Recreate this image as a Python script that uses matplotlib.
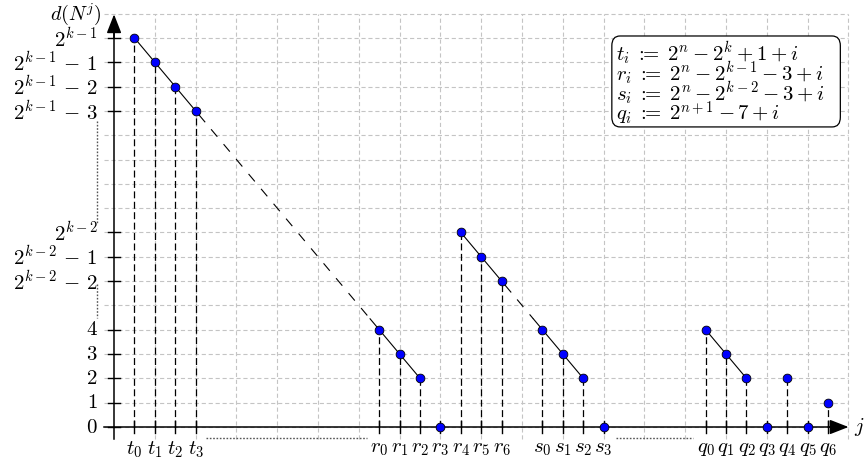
import matplotlib.pyplot as plt
from matplotlib.patches import FancyBboxPatch

plt.rcParams['mathtext.fontset'] = 'cm'
plt.rcParams['font.family'] = 'serif'
plt.rcParams['font.serif'] = ['DejaVu Serif']
plt.rcParams['lines.scale_dashes'] = False

# ---- data ----
names = ['t_0', 't_1', 't_2', 't_3',
         'r_0', 'r_1', 'r_2', 'r_3', 'r_4', 'r_5', 'r_6',
         's_0', 's_1', 's_2', 's_3',
         'q_0', 'q_1', 'q_2', 'q_3', 'q_4', 'q_5', 'q_6']
xs = [1, 2, 3, 4,
      13, 14, 15, 16, 17, 18, 19,
      21, 22, 23, 24,
      29, 30, 31, 32, 33, 34, 35]
ys = [16, 15, 14, 13,
      4, 3, 2, 0, 8, 7, 6,
      4, 3, 2, 0,
      4, 3, 2, 0, 2, 0, 1]

# runs of points joined by a solid line (start, stop index)
chains = [(0, 4), (4, 7), (8, 11), (11, 14), (15, 18)]
# dashed jumps between runs (from index, to index)
bridges = [(3, 4), (10, 11)]

ytick_pos = [0, 1, 2, 3, 4, 6, 7, 8, 13, 14, 15, 16]
ytick_lab = ['0', '1', '2', '3', '4',
             r'2^{k-2}\,-\,2', r'2^{k-2}\,-\,1', '2^{k-2}',
             r'2^{k-1}\,-\,3', r'2^{k-1}\,-\,2', r'2^{k-1}\,-\,1', '2^{k-1}']

defs = [r'$t_i\;:\!\!\!=\;2^n - 2^k + 1 + i$',
        r'$r_i\;:\!\!\!=\;2^n - 2^{k-1} - 3 + i$',
        r'$s_i\;:\!\!\!=\;2^n - 2^{k-2} - 3 + i$',
        r'$q_i\;:\!\!\!=\;2^{n+1} - 7 + i$']

fs = 15

fig = plt.figure(figsize=(8.64, 4.63), dpi=100)
ax = fig.add_axes([0, 0, 1, 1])
ax.set_xlim(-5.59, 36.76)
ax.set_ylim(-1.48, 17.56)
ax.axis('off')

# grid
gstyle = dict(color='#c4c4c4', lw=0.8, ls=(0, (3, 2)), zorder=0)
for y in range(0, 18):
    ax.plot([-0.5, 36], [y, y], **gstyle)
for x in range(2, 37, 2):
    ax.plot([x, x], [-0.5, 17], **gstyle)

# axes with arrows
ax.plot([-0.5, 35.4], [0, 0], color='black', lw=1.1, zorder=3)
ax.plot([0, 0], [-0.5, 16.4], color='black', lw=1.1, zorder=3)
ax.annotate('', xy=(36, 0), xytext=(35, 0),
            arrowprops=dict(arrowstyle='-|>,head_length=1.15,head_width=0.45',
                            mutation_scale=10, color='black', lw=1.1,
                            shrinkA=0, shrinkB=0), zorder=4)
ax.annotate('', xy=(0, 16.97), xytext=(0, 16.0),
            arrowprops=dict(arrowstyle='-|>,head_length=1.15,head_width=0.45',
                            mutation_scale=10, color='black', lw=1.1,
                            shrinkA=0, shrinkB=0), zorder=4)
ax.text(-0.6, 16.98, r'$d(N^j)$', ha='right', va='center', fontsize=14.5)
ax.text(36.25, 0, r'$j$', ha='left', va='center', fontsize=fs)

# y ticks and labels
for p, lab in zip(ytick_pos, ytick_lab):
    ax.plot([-0.3, 0.3], [p, p], color='black', lw=1.0, zorder=3)
    ax.text(-0.8, p, '$' + lab + '$', ha='right', va='center', fontsize=fs)

# axis-break dotted marks
dot = dict(color='#555555', lw=1.0, ls=(0, (1.2, 1.2)), zorder=2)
ax.plot([-0.83, -0.83], [12.6, 8.4], **dot)
ax.plot([-0.83, -0.83], [5.9, 4.5], **dot)
ax.plot([4.5, 12.4], [-0.45, -0.45], **dot)
ax.plot([24.6, 28.4], [-0.45, -0.45], **dot)

# x ticks, labels and drop lines
for n, x, y in zip(names, xs, ys):
    ax.plot([x, x], [-0.25, 0.25], color='black', lw=1.0, zorder=3)
    if y > 0:
        ax.plot([x, x], [0, y], color='black', lw=0.9,
                ls=(0, (5, 2.5)), zorder=2)
    ax.text(x, -0.5, '$' + n + '$', ha='center', va='top', fontsize=fs)

# solid runs
for a, b in chains:
    ax.plot(xs[a:b], ys[a:b], color='black', lw=0.8, zorder=4)

# dashed jumps with short solid stubs at both ends
stub = 0.45
for a, b in bridges:
    x0, y0, x1, y1 = xs[a], ys[a], xs[b], ys[b]
    ux = stub
    uy = stub * (y1 - y0) / (x1 - x0)
    ax.plot([x0, x0 + ux], [y0, y0 + uy], color='black', lw=0.8, zorder=4)
    ax.plot([x1 - ux, x1], [y1 - uy, y1], color='black', lw=0.8, zorder=4)
    ax.plot([x0 + ux, x1 - ux], [y0 + uy, y1 - uy], color='black', lw=0.8,
            ls=(7, (7, 7)), zorder=4)

# points
ax.plot(xs, ys, 'o', ms=6.3, mfc='#0000ff', mec='black', mew=0.6, zorder=5)

# definitions box
box = FancyBboxPatch((24.4, 12.34), 11.2, 3.74,
                     boxstyle='round,pad=0,rounding_size=0.4',
                     fc='white', ec='black', lw=0.9, zorder=6)
ax.add_patch(box)
ax.text(24.6, 15.92, '\n'.join(defs), ha='left', va='top',
        fontsize=fs, linespacing=0.65, zorder=7)

fig.savefig('out.png', dpi=100)
